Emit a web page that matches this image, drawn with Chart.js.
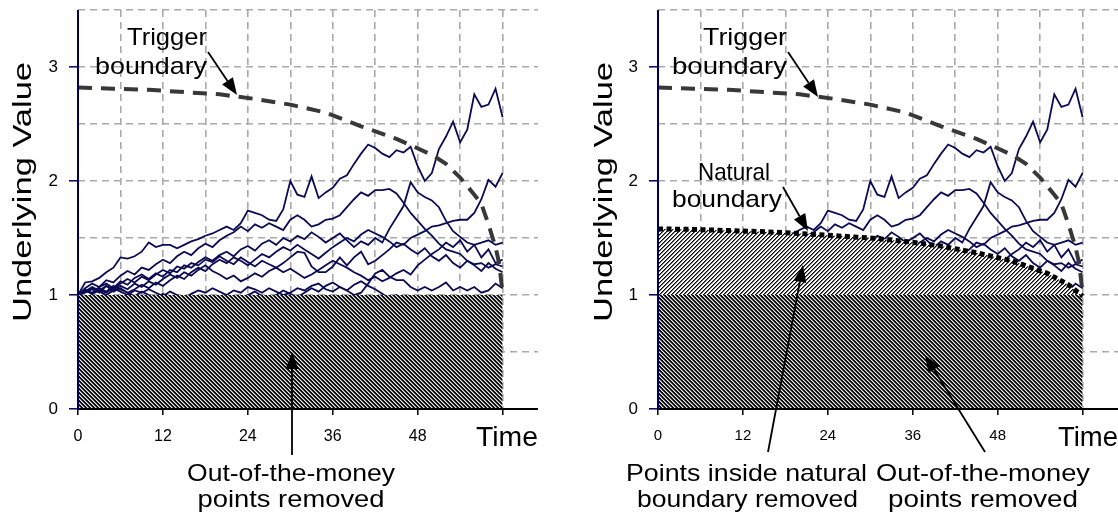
<!DOCTYPE html>
<html>
<head>
<meta charset="utf-8">
<script src="https://cdn.jsdelivr.net/npm/chart.js@4.4.0/dist/chart.umd.min.js"></script>
<style>
  html, body { margin: 0; padding: 0; background: #fff; }
  #wrap { position: relative; width: 1118px; height: 512px; overflow: hidden; }
  .panel { position: absolute; top: 0; width: 559px; height: 512px; }
  #left { left: 0; }
  #right { left: 559px; }
</style>
</head>
<body>
<div id="wrap">
  <div class="panel" id="left"><canvas id="c1" width="559" height="512"></canvas></div>
  <div class="panel" id="right"><canvas id="c2" width="559" height="512"></canvas></div>
</div>
<script>
// Simulated paths, one value per time step
const times = [0,1,2,3,4,5,6,7,8,9,10,11,12,13,14,15,16,17,18,19,20,21,22,23,24,25,26,27,28,29,30,
  31,32,33,34,35,36,37,38,39,40,41,42,43,44,45,46,47,48,49,50,51,52,53,54,55,56,57,58,59,60];

const pathA = [1.00,
  1.11,1.12,1.15,1.20,1.24,1.33,1.32,1.34,1.38,1.46,
  1.42,1.44,1.44,1.41,1.44,1.47,1.49,1.52,1.54,1.57,
  1.60,1.57,1.63,1.74,1.72,1.70,1.66,1.65,1.75,2.00,
  1.88,1.86,2.04,1.85,1.90,1.94,2.02,2.05,2.15,2.24,
  2.32,2.29,2.24,2.21,2.27,2.25,2.30,2.13,2.00,2.07,
  2.28,2.39,2.52,2.34,2.45,2.76,2.65,2.67,2.81,2.56];
const pathB = [1.00,
  1.03,1.06,1.02,1.08,1.05,1.10,1.14,1.11,1.16,1.13,
  1.18,1.22,1.19,1.25,1.23,1.28,1.26,1.31,1.29,1.34,
  1.30,1.27,1.33,1.29,1.25,1.30,1.27,1.24,1.28,1.33,
  1.38,1.37,1.25,1.20,1.20,1.25,1.33,1.26,1.33,1.38,
  1.27,1.30,1.35,1.40,1.46,1.44,1.50,1.53,1.56,1.60,
  1.61,1.63,1.65,1.66,1.66,1.72,1.84,2.01,1.95,2.07];
const pathC = [1.00,
  1.04,1.02,1.07,1.10,1.06,1.12,1.09,1.15,1.18,1.14,
  1.19,1.16,1.22,1.20,1.26,1.24,1.29,1.33,1.30,1.35,
  1.38,1.34,1.40,1.43,1.39,1.45,1.48,1.44,1.50,1.47,
  1.52,1.49,1.55,1.51,1.46,1.50,1.54,1.48,1.42,1.47,
  1.44,1.50,1.46,1.58,1.68,1.78,1.99,1.90,1.86,1.83,
  1.77,1.65,1.56,1.51,1.46,1.44,1.46,1.48,1.44,1.46];
const pathD = [1.00,
  1.06,1.10,1.07,1.13,1.11,1.17,1.21,1.18,1.24,1.22,
  1.27,1.31,1.28,1.34,1.38,1.35,1.41,1.45,1.42,1.48,
  1.52,1.55,1.60,1.56,1.62,1.59,1.63,1.60,1.57,1.66,
  1.70,1.66,1.60,1.62,1.66,1.67,1.70,1.77,1.84,1.90,
  1.87,1.92,1.92,1.93,1.89,1.81,1.72,1.65,1.58,1.52,
  1.45,1.40,1.38,1.36,1.30,1.27,1.28,1.24,1.27,1.25];
const pathE = [1.00,
  1.02,1.05,1.03,1.00,1.04,1.08,1.05,1.10,1.07,1.12,
  1.09,1.14,1.18,1.15,1.20,1.17,1.22,1.26,1.21,1.18,
  1.14,1.17,1.12,1.15,1.19,1.16,1.21,1.24,1.20,1.23,
  1.19,1.15,1.18,1.22,1.26,1.30,1.27,1.24,1.20,1.17,
  1.13,1.16,1.12,1.15,1.19,1.22,1.18,1.26,1.31,1.36,
  1.40,1.46,1.42,1.48,1.38,1.44,1.33,1.40,1.28,1.31];
const pathF = [1.00,
  1.05,1.01,1.04,1.08,1.03,1.06,1.02,1.05,1.09,1.06,
  1.11,1.08,1.13,1.17,1.14,1.20,1.24,1.21,1.27,1.31,
  1.28,1.33,1.30,1.26,1.31,1.36,1.33,1.38,1.42,1.39,
  1.44,1.40,1.36,1.32,1.37,1.42,1.46,1.50,1.47,1.53,
  1.57,1.54,1.51,1.47,1.42,1.45,1.40,1.36,1.41,1.34,
  1.30,1.35,1.28,1.24,1.30,1.26,1.21,1.28,1.23,1.20];
const pathG = [1.00,
  1.03,1.07,1.04,1.02,1.06,1.03,1.00,1.04,1.02,1.05,
  1.02,0.99,1.03,1.00,0.97,1.01,1.04,1.02,1.06,1.03,
  1.00,1.04,1.02,1.07,1.05,1.02,1.06,1.03,1.00,1.02,
  1.06,1.04,1.08,1.10,1.05,1.03,1.07,1.04,1.00,1.02,
  1.10,1.19,1.22,1.16,1.13,1.13,1.07,1.04,1.07,1.04,
  1.07,1.11,1.04,1.07,1.04,1.07,1.02,1.04,1.10,1.06];
const pathH = [1.00,
  1.04,1.01,1.06,1.03,1.08,1.05,1.02,0.99,1.03,1.00,
  0.97,1.01,0.98,0.95,0.99,0.96,0.93,0.97,0.94,0.91,
  0.95,0.92,0.96,1.00,1.03,0.99,0.96,1.00,1.04,1.01,
  0.98,1.02,1.06,1.03,1.08,1.11,1.07,1.04,1.09,1.12,
  1.08,1.05,1.01,0.97,1.00,0.96,0.93,0.97,0.94,0.90,
  0.93,0.89,0.92,0.88,0.85,0.89,0.86,0.84,0.88,0.80];
const paths = [pathA, pathB, pathC, pathD, pathE, pathF, pathG, pathH];

// Boundaries
const trigTimes  = [0, 5, 10, 15, 20, 25, 30, 35, 40, 45, 50, 52, 54, 56, 57, 58, 59, 59.5, 60];
const trigValues = [2.82, 2.81, 2.80, 2.78, 2.76, 2.72, 2.67, 2.60, 2.48, 2.37, 2.23, 2.15, 2.03, 1.88, 1.80, 1.62, 1.42, 1.28, 1.02];
const natTimes   = [0, 5, 10, 15, 20, 25, 30, 35, 40, 45, 50, 55, 58, 60];
const natValues  = [1.58, 1.575, 1.565, 1.555, 1.54, 1.52, 1.50, 1.47, 1.43, 1.37, 1.30, 1.19, 1.09, 0.99];
const moneyTimes  = [0, 60];
const moneyValues = [1, 1];

// Axes
const xGrid   = [0, 6, 12, 18, 24, 30, 36, 42, 48, 54, 60];
const xMarks  = [0, 12, 24, 36, 48, 60];
const xLabels = [0, 12, 24, 36, 48];
const yGrid   = [0, 0.5, 1, 1.5, 2, 2.5, 3, 3.5];
const yLabels = [0, 1, 2, 3];

const FONT = '"Liberation Sans", Arial, Helvetica, sans-serif';
const PATH_COLOR = '#0b0b55';

function pts(xs, ys) {
  return xs.map((x, i) => ({ x: x, y: ys[i] }));
}

// dense diagonal hatching, "back" = \\\ , "fwd" = ///
function hatch(dir, shades) {
  const c = document.createElement('canvas');
  c.width = 4; c.height = 4;
  const g = c.getContext('2d');
  const img = g.createImageData(4, 4);
  for (let y = 0; y < 4; y++) {
    for (let x = 0; x < 4; x++) {
      const k = dir === 'back' ? (x - y + 8) % 4 : (x + y) % 4;
      const v = shades[k];
      const o = (y * 4 + x) * 4;
      img.data[o] = v; img.data[o + 1] = v; img.data[o + 2] = v; img.data[o + 3] = 255;
    }
  }
  g.putImageData(img, 0, 0);
  return g.createPattern(c, 'repeat');
}

function drawLabel(ctx, item) {
  ctx.save();
  ctx.font = item.s + 'px ' + FONT;
  ctx.fillStyle = '#000';
  const w = ctx.measureText(item.t).width;
  ctx.translate(item.x, item.y);
  if (item.rot) {
    ctx.rotate(-Math.PI / 2);
    ctx.textAlign = 'center';
    ctx.textBaseline = 'middle';
  } else {
    ctx.textAlign = item.a;
    ctx.textBaseline = 'alphabetic';
  }
  ctx.scale(item.w / w, 1);
  ctx.fillText(item.t, 0, 0);
  ctx.restore();
}

function drawArrow(ctx, a) {
  const [x1, y1, x2, y2] = a;
  const ang = Math.atan2(y2 - y1, x2 - x1);
  const len = 17, half = 6.5;
  const bx = x2 - len * Math.cos(ang), by = y2 - len * Math.sin(ang);
  ctx.save();
  ctx.strokeStyle = '#000';
  ctx.fillStyle = '#000';
  ctx.lineWidth = 1.8;
  ctx.beginPath();
  ctx.moveTo(x1, y1);
  ctx.lineTo(bx, by);
  ctx.stroke();
  ctx.beginPath();
  ctx.moveTo(x2, y2);
  ctx.lineTo(bx + half * Math.sin(ang), by - half * Math.cos(ang));
  ctx.lineTo(bx - half * Math.sin(ang), by + half * Math.cos(ang));
  ctx.closePath();
  ctx.fill();
  ctx.restore();
}

function makeChart(id, cfg) {
  const canvas = document.getElementById(id);
  const ctx = canvas.getContext('2d');
  const darkHatch = hatch('back', [235, 120, 0, 25]);
  const lightHatch = hatch('fwd', [255, 250, 0, 110]);

  const datasets = [];
  datasets.push({
    label: 'Trigger boundary',
    data: pts(trigTimes, trigValues),
    borderColor: '#383838', borderWidth: 4, borderDash: [14, 9],
    fill: false, order: 0
  });
  datasets.push({
    label: 'Out-of-the-money',
    data: pts(moneyTimes, moneyValues),
    borderColor: 'rgba(0,0,0,0)', borderWidth: 0,
    backgroundColor: darkHatch, fill: 'origin', order: 2
  });
  if (cfg.natural) {
    datasets.push({
      label: 'Natural boundary',
      data: pts(natTimes, natValues),
      borderColor: '#000', borderWidth: 5, borderDash: [5, 3.5],
      backgroundColor: lightHatch, fill: 1, order: 1
    });
  }
  paths.forEach((p, i) => {
    datasets.push({
      label: 'Path ' + (i + 1),
      data: pts(times, p),
      borderColor: PATH_COLOR, borderWidth: 1.8,
      fill: false, order: 3
    });
  });

  const overlay = {
    id: 'overlay',
    afterDatasetsDraw(chart) {
      const c = chart.ctx, a = chart.chartArea;
      c.save();
      c.lineWidth = 2;
      c.strokeStyle = '#000';
      c.beginPath();
      c.moveTo(a.left, a.bottom);
      c.lineTo(a.right, a.bottom);
      c.stroke();
      c.strokeStyle = '#00005a';
      c.beginPath();
      c.moveTo(a.left, a.top);
      c.lineTo(a.left, a.bottom + 1);
      c.stroke();
      c.restore();
    },
    afterDraw(chart) {
      const c = chart.ctx;
      cfg.texts.forEach(t => drawLabel(c, t));
      cfg.arrows.forEach(ar => drawArrow(c, ar));
    }
  };

  return new Chart(ctx, {
    type: 'line',
    data: { datasets },
    plugins: [overlay],
    options: {
      responsive: false,
      animation: false,
      events: [],
      layout: { padding: { left: 0, top: 10, right: cfg.padRight, bottom: 58 } },
      elements: {
        point: { radius: 0 },
        line: { tension: 0, borderCapStyle: 'butt' }
      },
      plugins: { legend: { display: false }, tooltip: { enabled: false } },
      scales: {
        x: {
          type: 'linear', min: 0, max: 65,
          afterBuildTicks: s => { s.ticks = xGrid.map(v => ({ value: v })); },
          afterFit: s => { s.height = 45; s.paddingLeft = 0; s.paddingRight = 0; },
          grid: {
            color: c => (c.tick && c.tick.value === 0) ? 'rgba(0,0,0,0)' : '#a9a9a9',
            lineWidth: 1.6,
            tickLength: 6,
            tickWidth: 1.5,
            tickColor: c => (c.tick && xMarks.includes(c.tick.value)) ? '#000' : 'rgba(0,0,0,0)'
          },
          border: { display: false, dash: [7, 5] },
          ticks: {
            autoSkip: false, maxRotation: 0, minRotation: 0, padding: 12,
            color: '#000', font: { family: FONT, size: cfg.tickSize },
            callback: v => xLabels.includes(v) ? String(v) : ''
          }
        },
        y: {
          type: 'linear', min: 0, max: 3.5,
          afterBuildTicks: s => { s.ticks = yGrid.map(v => ({ value: v })); },
          afterFit: s => { s.width = cfg.yWidth; s.paddingTop = 0; s.paddingBottom = 0; },
          grid: {
            color: c => (c.tick && c.tick.value === 0) ? 'rgba(0,0,0,0)' : '#a9a9a9',
            lineWidth: 1.6,
            tickLength: 9,
            tickWidth: 1.5,
            tickColor: c => (c.tick && yLabels.includes(c.tick.value)) ? '#00005a' : 'rgba(0,0,0,0)'
          },
          border: { display: false, dash: [7, 5] },
          ticks: {
            autoSkip: false, padding: 11,
            color: '#000', font: { family: FONT, size: 17 },
            callback: v => yLabels.includes(v) ? String(v) : ''
          }
        }
      }
    }
  });
}

makeChart('c1', {
  natural: false, yWidth: 78, padRight: 21, tickSize: 16,
  texts: [
    { t: 'Underlying Value', x: 24, y: 192, s: 25, w: 260, rot: true },
    { t: 'Trigger', x: 207, y: 45, s: 24, w: 80, a: 'right' },
    { t: 'boundary', x: 207, y: 74, s: 24, w: 112, a: 'right' },
    { t: 'Out-of-the-money', x: 291, y: 481, s: 24, w: 208, a: 'center' },
    { t: 'points removed', x: 291, y: 507, s: 24, w: 187, a: 'center' },
    { t: 'Time', x: 476, y: 446, s: 27, w: 62, a: 'left' }
  ],
  arrows: [[208, 52, 237, 95], [292, 455, 292, 352]]
});

makeChart('c2', {
  natural: true, yWidth: 99, padRight: 0, tickSize: 15,
  texts: [
    { t: 'Underlying Value', x: 46, y: 192, s: 25, w: 260, rot: true },
    { t: 'Trigger', x: 228, y: 45, s: 24, w: 84, a: 'right' },
    { t: 'boundary', x: 228, y: 74, s: 24, w: 115, a: 'right' },
    { t: 'Natural', x: 139, y: 180, s: 24, w: 72, a: 'left' },
    { t: 'boundary', x: 113, y: 207, s: 24, w: 110, a: 'left' },
    { t: 'Points inside natural', x: 187.5, y: 481, s: 24, w: 241, a: 'center' },
    { t: 'boundary removed', x: 188.5, y: 507, s: 24, w: 221, a: 'center' },
    { t: 'Out-of-the-money', x: 424, y: 481, s: 24, w: 214, a: 'center' },
    { t: 'points removed', x: 424, y: 507, s: 24, w: 190, a: 'center' },
    { t: 'Time', x: 499, y: 446, s: 27, w: 60, a: 'left' }
  ],
  arrows: [[229, 52, 259, 97], [224, 187, 249, 231], [209, 452, 244, 265], [426, 452, 366, 355]]
});
</script>
</body>
</html>
